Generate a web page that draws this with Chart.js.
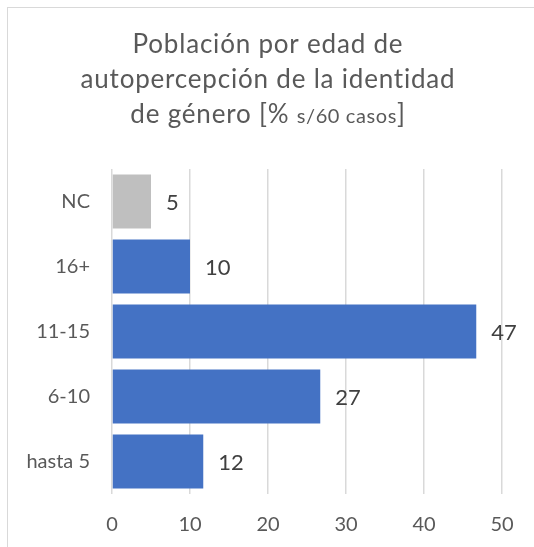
<!DOCTYPE html>
<html>
<head>
<meta charset="utf-8">
<script src="https://cdn.jsdelivr.net/npm/chart.js@4"></script>
<style>
  html, body { margin: 0; padding: 0; background: #ffffff; overflow: hidden; }
  #wrap { width: 534px; height: 547px; position: relative; }
</style>
</head>
<body>
<div id="wrap"><canvas id="chart"></canvas></div>
<script>
// data
const categories = ['NC', '16+', '11-15', '6-10', 'hasta 5'];
const percentValues = [5, 10, 46.7, 26.7, 11.7];
const barColors = ['#BFBFBF', '#4472C4', '#4472C4', '#4472C4', '#4472C4'];
const axisMin = 0;
const axisMax = 50;
const axisStep = 10;

const titleLines = ['Población por edad de', 'autopercepción de la identidad'];
// last title line mixes two sizes: [text, big?]
const titleLastLine = [['de género [% ', true], ['s/60 casos', false], [']', true]];

const FONT = 'Lato, "Open Sans", sans-serif';

const framePlugin = {
    id: 'frame',
    beforeDraw(chart) {
        const ctx = chart.ctx;
        ctx.save();
        ctx.fillStyle = '#ffffff';
        ctx.fillRect(0, 0, chart.width, chart.height);
        ctx.strokeStyle = '#d9d9d9';
        ctx.lineWidth = 1;
        ctx.strokeRect(7.5, 7.5, 800, 800);
        ctx.restore();
    }
};

const titlePlugin = {
    id: 'mixedTitle',
    afterDraw(chart) {
        const ctx = chart.ctx;
        const cx = 268;
        const bigFont = '26px ' + FONT;
        const smallFont = '20px ' + FONT;
        const setFont = big => {
            ctx.font = big ? bigFont : smallFont;
            ctx.letterSpacing = big ? '0.8px' : '0.6px';
        };
        ctx.save();
        ctx.fillStyle = '#595959';
        ctx.textBaseline = 'alphabetic';
        ctx.textAlign = 'center';
        setFont(true);
        titleLines.forEach((line, i) => {
            ctx.fillText(line, cx, 53 + i * 35);
        });

        // measure the mixed line, then draw piece by piece
        let total = 0;
        titleLastLine.forEach(p => {
            setFont(p[1]);
            total += ctx.measureText(p[0]).width;
        });
        let x = cx - total / 2;
        ctx.textAlign = 'left';
        titleLastLine.forEach(p => {
            setFont(p[1]);
            ctx.fillText(p[0], x, 123);
            x += ctx.measureText(p[0]).width;
        });
        ctx.letterSpacing = '0px';
        ctx.restore();
    }
};

const valueLabels = {
    id: 'valueLabels',
    afterDatasetsDraw(chart) {
        const ctx = chart.ctx;
        const meta = chart.getDatasetMeta(0);
        ctx.save();
        ctx.font = '22px ' + FONT;
        ctx.fillStyle = '#404040';
        ctx.textAlign = 'left';
        ctx.textBaseline = 'middle';
        meta.data.forEach((bar, i) => {
            ctx.fillText(Math.round(percentValues[i]), bar.x + 15, bar.y + 1);
        });
        ctx.restore();
    }
};

new Chart(document.getElementById('chart'), {
    type: 'bar',
    data: {
        labels: categories,
        datasets: [{
            data: percentValues,
            backgroundColor: barColors,
            borderWidth: 0,
            categoryPercentage: 1,
            barPercentage: 0.83
        }]
    },
    options: {
        indexAxis: 'y',
        responsive: true,
        maintainAspectRatio: false,
        animation: false,
        layout: { padding: { top: 169, right: 32, left: 0, bottom: 0 } },
        plugins: {
            legend: { display: false },
            title: { display: false },
            tooltip: { enabled: false }
        },
        scales: {
            x: {
                min: axisMin,
                max: axisMax,
                ticks: {
                    stepSize: axisStep,
                    color: '#595959',
                    font: { family: FONT, size: 20 },
                    padding: 19
                },
                grid: { color: '#d9d9d9', lineWidth: 1.5, drawTicks: false },
                border: { display: false },
                afterFit: s => { s.height = 53; }
            },
            y: {
                ticks: {
                    color: '#595959',
                    font: { family: FONT, size: 20 },
                    padding: 22
                },
                grid: { display: false, drawTicks: false },
                border: { display: false },
                afterFit: s => { s.width = 112; }
            }
        }
    },
    plugins: [framePlugin, titlePlugin, valueLabels]
});
</script>
</body>
</html>
